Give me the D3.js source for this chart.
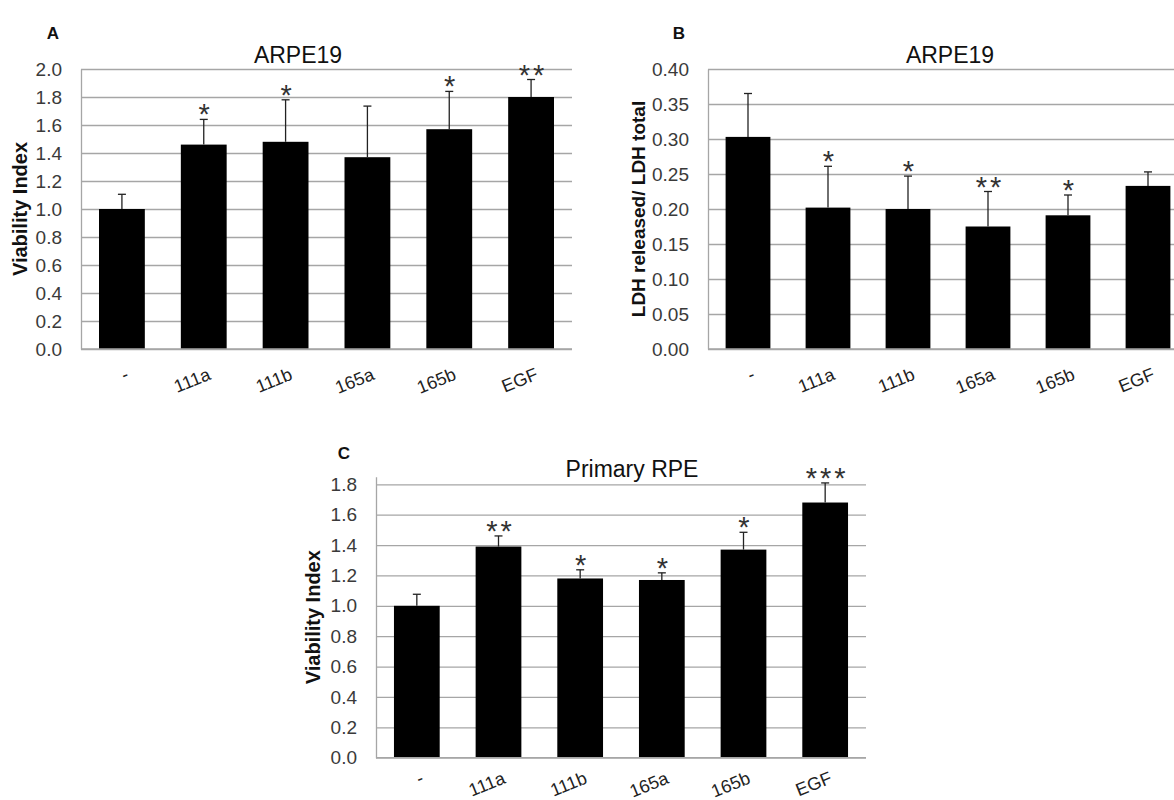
<!DOCTYPE html>
<html>
<head>
<meta charset="utf-8">
<script src="https://cdn.jsdelivr.net/npm/d3@7"></script>
<style>
  html, body { margin: 0; padding: 0; background: #fff; }
  svg { display: block; overflow: hidden; }
  text { font-family: "Liberation Sans", Arial, sans-serif; }
</style>
</head>
<body>
<svg id="fig" width="1174" height="800"></svg>
<script>
// Treatment groups (same for all three panels)
const categories = ["-", "111a", "111b", "165a", "165b", "EGF"];

// Panel A: ARPE19 viability
const viabilityARPE19 = [1.00, 1.46, 1.48, 1.37, 1.57, 1.80];
const viabilityARPE19Err = [0.105, 0.18, 0.30, 0.365, 0.27, 0.125];
const sigARPE19 = ["", "*", "*", "", "*", "**"];
const ticksViabilityA = [0, 0.2, 0.4, 0.6, 0.8, 1.0, 1.2, 1.4, 1.6, 1.8, 2.0];

// Panel B: ARPE19 LDH release
const ldhARPE19 = [0.303, 0.202, 0.200, 0.175, 0.191, 0.233];
const ldhARPE19Err = [0.062, 0.059, 0.047, 0.050, 0.029, 0.020];
const sigLDH = ["", "*", "*", "**", "*", ""];
const ticksLDH = [0, 0.05, 0.10, 0.15, 0.20, 0.25, 0.30, 0.35, 0.40];

// Panel C: primary RPE viability
const viabilityPrimary = [1.00, 1.39, 1.18, 1.17, 1.37, 1.68];
const viabilityPrimaryErr = [0.076, 0.07, 0.057, 0.047, 0.114, 0.129];
const sigPrimary = ["", "**", "*", "*", "*", "***"];
const ticksViabilityC = [0, 0.2, 0.4, 0.6, 0.8, 1.0, 1.2, 1.4, 1.6, 1.8];

const svg = d3.select("#fig");
const GRID = "#a6a6a6";

function panel(cfg) {
  const g = svg.append("g");
  const x = d3.scaleBand().domain(categories).range([cfg.left, cfg.right])
    .paddingInner(0.44).paddingOuter(0.22);
  const y = d3.scaleLinear().domain([0, cfg.max]).range([cfg.bottom, cfg.top]);
  const w = cfg.right - cfg.left;

  // y axis with horizontal gridlines
  const ya = g.append("g")
    .attr("transform", `translate(${cfg.left},0)`)
    .call(d3.axisLeft(y).tickValues(cfg.ticks).tickSize(-w).tickSizeOuter(0)
      .tickPadding(19).tickFormat(d3.format(cfg.fmt)));
  ya.select(".domain").attr("stroke", GRID).attr("stroke-width", 1.3);
  ya.selectAll(".tick line").attr("stroke", GRID).attr("stroke-width", 1.3);
  ya.selectAll(".tick text").attr("fill", "#3a3a3a").style("font-size", "19px");

  // bars
  g.selectAll("rect.bar").data(cfg.values).join("rect")
    .attr("class", "bar")
    .attr("x", (d, i) => x(categories[i]))
    .attr("y", d => y(d))
    .attr("width", x.bandwidth())
    .attr("height", d => y(0) - y(d))
    .attr("fill", "#000");

  // upper error bars
  const eb = g.selectAll("g.err").data(cfg.values).join("g").attr("class", "err");
  eb.append("line")
    .attr("x1", (d, i) => x(categories[i]) + x.bandwidth() / 2)
    .attr("x2", (d, i) => x(categories[i]) + x.bandwidth() / 2)
    .attr("y1", d => y(d))
    .attr("y2", (d, i) => y(d + cfg.err[i]))
    .attr("stroke", "#222").attr("stroke-width", 1.3);
  eb.append("line")
    .attr("x1", (d, i) => x(categories[i]) + x.bandwidth() / 2 - 4)
    .attr("x2", (d, i) => x(categories[i]) + x.bandwidth() / 2 + 4)
    .attr("y1", (d, i) => y(d + cfg.err[i]))
    .attr("y2", (d, i) => y(d + cfg.err[i]))
    .attr("stroke", "#222").attr("stroke-width", 1.3);

  // significance stars
  g.selectAll("text.sig").data(cfg.values).join("text")
    .attr("class", "sig")
    .attr("x", (d, i) => x(categories[i]) + x.bandwidth() / 2 + 2)
    .attr("y", (d, i) => y(d + cfg.err[i]) + 5)
    .attr("text-anchor", "middle")
    .style("font-size", "29px")
    .style("letter-spacing", "3px")
    .attr("fill", "#333")
    .text((d, i) => cfg.sig[i]);

  // bottom axis with slanted category labels
  const xa = g.append("g")
    .attr("transform", `translate(0,${cfg.bottom})`)
    .call(d3.axisBottom(x).tickSize(0).tickSizeOuter(0));
  xa.select(".domain").attr("stroke", GRID).attr("stroke-width", 1.3)
    .attr("d", `M${cfg.left},0H${cfg.right}`);
  xa.selectAll(".tick text")
    .attr("x", 0).attr("y", 0).attr("dy", 0)
    .attr("text-anchor", "end")
    .attr("transform", `translate(8,${cfg.labelDrop}) rotate(-22)`)
    .attr("fill", "#222")
    .style("font-size", "18px");

  // chart title
  g.append("text").attr("x", cfg.titleX).attr("y", cfg.titleY)
    .attr("text-anchor", "middle").style("font-size", "23px").attr("fill", "#111")
    .text(cfg.title);

  // y axis title
  g.append("text")
    .attr("transform", `translate(${cfg.yTitleX},${(cfg.top + cfg.bottom) / 2}) rotate(-90)`)
    .attr("text-anchor", "middle").style("font-size", cfg.yTitleSize)
    .style("font-weight", "bold").attr("fill", "#111")
    .text(cfg.yTitle);

  // panel letter
  g.append("text").attr("x", cfg.letterX).attr("y", cfg.letterY)
    .attr("text-anchor", "middle").style("font-size", "17px")
    .style("font-weight", "bold").attr("fill", "#111")
    .text(cfg.letter);
}

panel({
  letter: "A", letterX: 53, letterY: 39,
  title: "ARPE19", titleX: 298, titleY: 63,
  yTitle: "Viability Index", yTitleX: 27, yTitleSize: "20px",
  left: 81, right: 572, top: 69, bottom: 349, max: 2.0, labelDrop: 30,
  ticks: ticksViabilityA, fmt: ".1f",
  values: viabilityARPE19, err: viabilityARPE19Err, sig: sigARPE19
});

panel({
  letter: "B", letterX: 679, letterY: 39,
  title: "ARPE19", titleX: 950, titleY: 63,
  yTitle: "LDH released/ LDH total", yTitleX: 645, yTitleSize: "19px",
  left: 708, right: 1188, top: 69, bottom: 349, max: 0.40, labelDrop: 30,
  ticks: ticksLDH, fmt: ".2f",
  values: ldhARPE19, err: ldhARPE19Err, sig: sigLDH
});

panel({
  letter: "C", letterX: 344, letterY: 459,
  title: "Primary RPE", titleX: 632, titleY: 477,
  yTitle: "Viability Index", yTitleX: 320, yTitleSize: "20px",
  left: 376, right: 866, top: 476.7, bottom: 757.7, max: 1.85, labelDrop: 25,
  ticks: ticksViabilityC, fmt: ".1f",
  values: viabilityPrimary, err: viabilityPrimaryErr, sig: sigPrimary
});
</script>
</body>
</html>
